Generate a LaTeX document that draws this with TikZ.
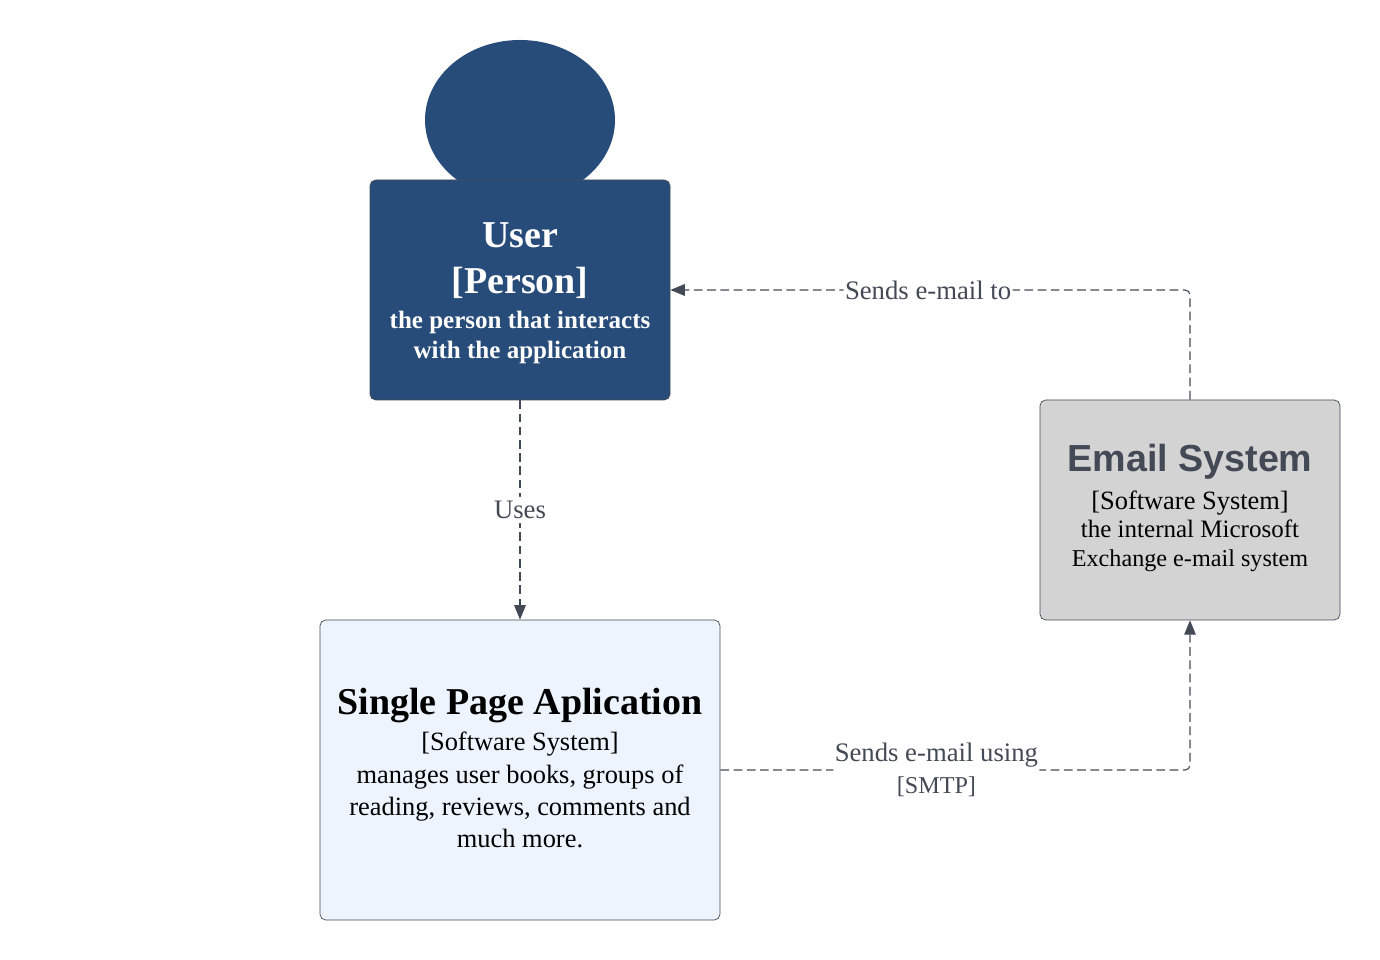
\documentclass[tikz,border=0pt]{standalone}
\usepackage{fontspec}
\setmainfont{Liberation Serif}
\setsansfont{Liberation Sans}
\usepackage{tikz}
\usetikzlibrary{arrows.meta,shapes.geometric}
\definecolor{personblue}{HTML}{284C7A}
\definecolor{spablue}{HTML}{EDF4FE}
\definecolor{mailgray}{HTML}{D3D3D3}
\definecolor{edgegray}{HTML}{444A55}
\newcommand{\titlesize}{\fontsize{27}{20}\selectfont}
\newcommand{\bodysize}{\fontsize{17.8}{20}\selectfont}
\newcommand{\spasize}{\fontsize{18.8}{20}\selectfont}
\newcommand{\edgesize}{\fontsize{19}{21.5}\selectfont}
\newcommand{\tightlines}{\lineskiplimit=-100pt\relax}

\begin{document}
\begin{tikzpicture}[>={Triangle[length=3.6mm,width=2.9mm]},
  box/.style={draw=edgegray,line width=0.5pt,rounded corners=4pt,align=center,inner sep=0pt,font=\tightlines},
  rel/.style={->,draw=edgegray,line width=0.8pt,dash pattern=on 6.2pt off 3.2pt,rounded corners=3.5pt},
  rellabel/.style={fill=white,text=edgegray,font=\edgesize,align=center,inner sep=1pt}]
\useasboundingbox (0,0) rectangle (34.5,24);
\node[ellipse,fill=personblue,inner sep=0pt,minimum width=4.75cm,minimum height=4cm] (head) at (13,21) {};
\node[box,fill=personblue,text=white,minimum width=7.5cm,minimum height=5.5cm] (user) at (13,16.75) {\rule{0pt}{22.8pt}\bfseries\titlesize User\\[20.7pt]\bfseries\titlesize [Person]\\[12.9pt]\bfseries\bodysize the person that interacts\\[9.3pt]\bfseries\bodysize with the application};
\node[box,fill=spablue,text=black,minimum width=10cm,minimum height=7.5cm] (spa) at (13,4.75) {\bfseries\titlesize Single Page Aplication\\[13.6pt]\spasize [Software System]\\[11pt]\spasize manages user books, groups of\\[11pt]\spasize reading, reviews, comments and\\[11pt]\spasize much more.\rule[-2.8pt]{0pt}{0pt}};
\node[box,fill=mailgray,text=black,minimum width=7.5cm,minimum height=5.5cm] (email) at (29.75,11.25) {{\sffamily\bfseries\color{edgegray}\fontsize{26.8}{20}\selectfont Email System}\\[15pt]\spasize [Software System]\\[8pt]\bodysize the internal Microsoft\\[8pt]\fontsize{17.2}{20}\selectfont Exchange e-mail system\rule[-6.6pt]{0pt}{0pt}};
\draw[rel] (user) -- (spa) node[midway,rellabel,inner ysep=3pt] (uses) {Uses};
\draw[rel] (email.north) |- (user.east) node[pos=0.752,rellabel] (sends) {Sends e-mail to};
\draw[rel] (spa.east) -| (email.south) node[pos=0.23,rellabel] (smtp) {Sends e-mail using\\[1.5pt]\fontsize{17.2}{21.5}\selectfont [SMTP]};
\end{tikzpicture}
\end{document}
